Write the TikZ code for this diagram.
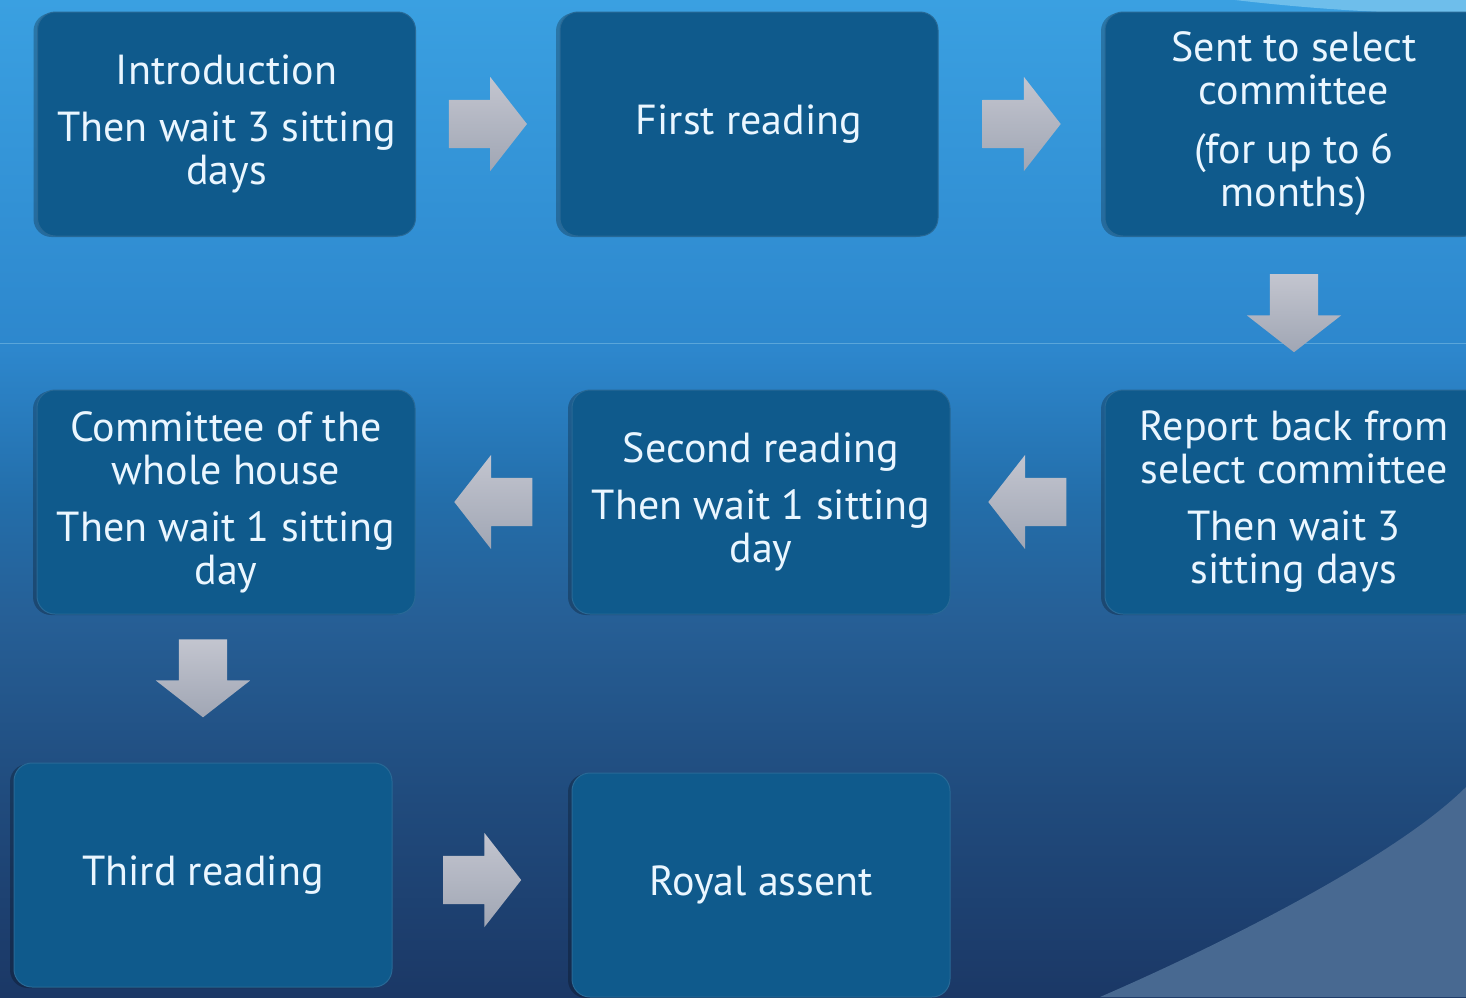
\documentclass[tikz,border=0pt]{standalone}
\usepackage{fontspec}
\setmainfont{PT Sans}
\usetikzlibrary{shapes.arrows,calc,shadows}

\definecolor{bgA}{RGB}{27,56,102}
\definecolor{bgB}{RGB}{32,75,125}
\definecolor{bgC}{RGB}{38,95,150}
\definecolor{bgD}{RGB}{35,110,170}
\definecolor{bgE}{RGB}{45,135,205}
\definecolor{bgF}{RGB}{58,160,225}
\definecolor{boxblue}{RGB}{15,90,140}
\definecolor{boxedge}{RGB}{40,105,150}
\definecolor{txtcol}{RGB}{234,246,255}
\definecolor{arrowtop}{RGB}{195,197,207}
\definecolor{arrowbot}{RGB}{160,166,180}
\definecolor{swoosh}{RGB}{72,105,145}
\definecolor{topglow}{RGB}{110,190,235}
\definecolor{rule}{RGB}{90,166,218}

\pgfdeclareverticalshading{slidebg}{100bp}{color(0bp)=(bgA); color(25bp)=(bgA);
  color(35bp)=(bgB); color(44bp)=(bgC); color(50bp)=(bgD); color(57.5bp)=(bgE);
  color(75bp)=(bgF); color(100bp)=(bgF)}

\tikzset{
  stage/.style={rounded corners=18pt, fill=boxblue, draw=boxedge, line width=1pt,
    minimum width=378pt, minimum height=224pt, text=txtcol, align=center,
    font=\fontsize{42}{43}\selectfont,
    general shadow={shadow xshift=-4pt, shadow yshift=-1pt, fill=black, opacity=0.25}},
  blockarrow/.style={single arrow, draw=none, top color=arrowtop, bottom color=arrowbot,
    anchor=tail, minimum height=78pt, minimum width=94pt, inner xsep=0pt, inner ysep=24pt,
    single arrow head extend=23pt, single arrow tip angle=104},
  downarrow/.style={blockarrow, shape border rotate=270, inner xsep=24pt, inner ysep=0pt},
  leftarrow/.style={blockarrow, shape border rotate=180}
}

\begin{document}
\begin{tikzpicture}[x=1pt,y=-1pt]
\clip (0,0) rectangle (1466,997);
% background
\shade[shading=slidebg] (0,0) rectangle (1466,997);
\fill[topglow] (1235,0) .. controls (1320,10) and (1400,14) .. (1466,14) -- (1466,0) -- cycle;
\draw[rule, line width=1pt] (0,343) -- (1466,343);
\fill[swoosh] (1100,997) .. controls (1220,945) and (1396,857) .. (1466,787) -- (1466,997) -- cycle;

% stages
\node[stage] (intro)  at (226.5,124) {Introduction\\[14pt]Then wait 3 sitting\\days};
\node[stage] (first)  at (749,124)   {First reading};
\node[stage] (select) at (1294,124)  {Sent to select\\committee\\[16pt](for up to 6\\months)};

\node[stage] (whole)  at (226,502)   {Committee of the\\whole house\\[14pt]Then wait 1 sitting\\day};
\node[stage] (second) at (761,502)   {Second reading\\[14pt]Then wait 1 sitting\\day};
\node[stage] (report) at (1294,502)  {Report back from\\select committee\\[14pt]Then wait 3\\sitting days};

\node[stage] (third)  at (203,875)   {Third reading};
\node[stage] (royal)  at (761,885)   {Royal assent};

% arrows (placed by their tails)
\node[blockarrow] (a1) at ($(intro.east)!0.5!(first.west)+(-39,0)$) {};
\node[blockarrow] (a2) at ($(first.east)!0.5!(select.west)+(-39,0)$) {};
\node[downarrow]  (a3) at ($(select.south)!0.5!(report.north)+(0,-39)$) {};
\node[leftarrow]  (a4) at ($(report.west)!0.5!(second.east)+(39,0)$) {};
\node[leftarrow]  (a5) at ($(second.west)!0.5!(whole.east)+(39,0)$) {};
\node[downarrow]  (a6) at ($(whole.south -| third.north)!0.43!(third.north)+(0,-39)$) {};
\node[blockarrow] (a7) at ($(third.east)!0.5!(royal.west)+(-39,0)$) {};
\end{tikzpicture}
\end{document}
